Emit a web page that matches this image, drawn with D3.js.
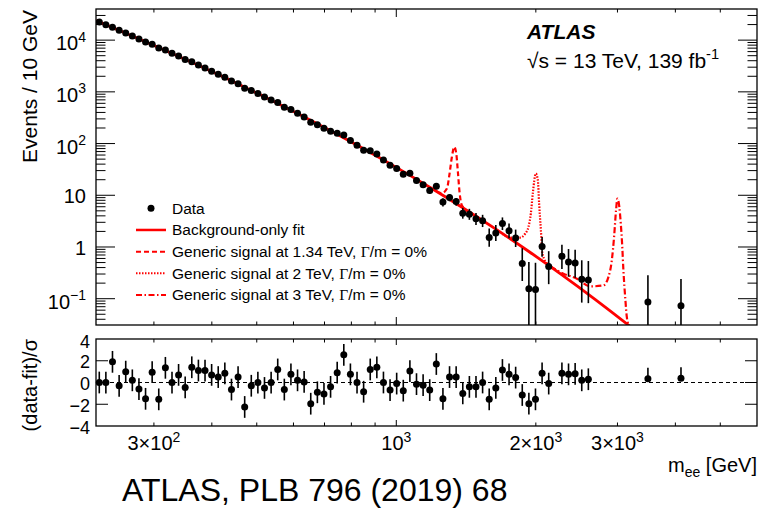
<!DOCTYPE html>
<html>
<head>
<meta charset="utf-8">
<script src="https://cdn.jsdelivr.net/npm/d3@7"></script>
<style>
  body { margin: 0; background: #fff; }
  svg { font-family: 'Liberation Sans', Arial, Helvetica, sans-serif; }
</style>
</head>
<body>
<svg id="chart" width="768" height="510"></svg>
<script>
// dielectron mass spectrum, bin centres (GeV) of the bins that hold data
const massCenters = [228.7, 236.3, 244.2, 252.4, 260.8, 269.5, 278.5, 287.8, 297.4, 307.3,
  317.6, 328.2, 339.1, 350.4, 362.1, 374.2, 386.7, 399.6, 412.9, 426.7,
  441.0, 455.7, 470.9, 486.6, 502.8, 519.6, 537.0, 554.9, 573.4, 592.5,
  612.3, 632.7, 653.8, 675.7, 698.2, 721.5, 745.6, 770.5, 796.2, 822.8,
  850.2, 878.6, 907.9, 938.2, 969.5, 1001.9, 1035.3, 1069.9, 1105.6, 1142.5,
  1180.6, 1220.0, 1260.7, 1302.8, 1346.3, 1391.3, 1437.7, 1485.7, 1535.3, 1586.5,
  1639.5, 1694.2, 1750.8, 1809.2, 1869.6, 1932.0, 1996.5, 2063.1, 2132.0,
  2276.7, 2352.7, 2431.2, 2512.4, 2596.2, 3490, 4113]

// events / 10 GeV
const events = [22510, 19890, 17840, 15460, 13800, 12070, 10550, 9190, 8290, 7080,
  6430, 5551, 4910, 4231, 3803, 3311, 2894, 2509, 2181, 1912,
  1614, 1436, 1171, 1062, 926, 791, 693, 619, 505, 455,
  385, 328, 259, 232, 197, 173, 158, 146.6, 114.3, 93.2,
  74.6, 72.9, 62.9, 48.1, 38.1, 33.0, 25.5, 26.6, 19.3, 16.0,
  12.4, 15.0, 7.4, 9.1, 7.6, 4.5, 4.3, 3.5, 3.2, 1.53,
  1.87, 2.83, 2.05, 1.49, 0.48, 0.155, 0.150, 1.02, 0.42,
  0.66, 0.51, 0.49, 0.238, 0.231, 0.086, 0.073]

const eventErrLow = [172, 159, 148, 135, 126, 116, 107, 98, 91, 83,
  78, 71, 66, 60, 56, 51, 47, 43, 40, 37,
  33, 31, 27, 26, 23, 21, 20, 18, 16, 15,
  13.7, 12.5, 10.9, 10.1, 9.2, 8.5, 8.0, 7.5, 6.6, 5.8,
  5.1, 5.0, 4.6, 3.9, 3.4, 3.1, 2.7, 2.7, 2.3, 2.05,
  1.77, 1.92, 1.33, 1.45, 1.30, 0.97, 0.95, 0.83, 0.77, 0.52,
  0.57, 0.70, 0.58, 0.49, 0.26, 0.128, 0.124, 0.375, 0.229,
  0.284, 0.244, 0.236, 0.154, 0.149, 0.071, 0.060]

const eventErrHigh = [172, 159, 148, 135, 126, 116, 107, 98, 91, 83,
  78, 71, 66, 60, 56, 51, 47, 43, 40, 37,
  33, 31, 27, 26, 23, 21, 20, 18, 16, 15,
  13.7, 12.5, 10.9, 10.1, 9.2, 8.5, 8.0, 7.5, 6.6, 5.8,
  5.1, 5.0, 4.6, 3.9, 3.4, 3.1, 2.7, 2.7, 2.3, 2.05,
  1.77, 1.92, 1.33, 1.45, 1.30, 1.2, 1.17, 1.05, 0.99, 0.75,
  0.78, 0.90, 0.78, 0.68, 0.47, 0.357, 0.345, 0.547, 0.41,
  0.445, 0.403, 0.39, 0.315, 0.304, 0.197, 0.168]

// (data-fit)/sigma
const pulls = [0.0, 0.0, 1.9, -0.3, 1.0, 0.2, -0.6, -1.5, 0.95, -1.55,
  1.35, 0.0, 0.7, -0.45, 1.4, 1.1, 1.1, 0.7, 0.5, 0.85,
  -0.65, 0.5, -2.25, -0.3, 0.0, -0.5, 0.0, 1.2, -0.65, 0.75,
  0.2, 0.05, -1.95, -0.9, -1.05, -0.4, 0.9, 2.55, 0.75, 0.0,
  -0.85, 1.2, 1.4, 0.0, -0.7, -0.1, -0.75, 1.05, -0.15, -0.25,
  -0.7, 1.7, -1.5, 0.5, 0.5, -1.0, -0.4, -0.4, 0.0, -1.55,
  -0.5, 1.15, 0.75, 0.45, -1.15, -1.95, -1.55, 0.85, -0.1,
  0.85, 0.75, 0.8, 0.2, 0.3, 0.35, 0.4]
const pullErrLow = [1, 1, 1, 1, 1, 1, 1, 1, 1, 1, 1, 1, 1, 1, 1, 1, 1, 1, 1, 1,
  1, 1, 1, 1, 1, 1, 1, 1, 1, 1, 1, 1, 1, 1, 1, 1, 1, 1, 1, 1,
  1, 1, 1, 1, 1, 1, 1, 1, 1, 1, 1, 1, 1, 1, 1, 1, 1, 1, 1, 1,
  1, 1, 1, 1, 1, 1, 1, 1, 1, 1, 1, 1, 1, 1, 0, 0]

// background-only fit
const fitMass = [225, 228.7, 269.5, 317.6, 374.2, 441.0, 519.6, 612.3, 721.5, 850.2,
  1001.9, 1180.6, 1391.3, 1639.5, 1932.0, 2276.7, 2684, 3163, 3377]
const fitEvents = [23920, 22510, 12050, 6328, 3255, 1636, 801.5, 381.9, 176.6, 79.1,
  34.25, 14.30, 5.742, 2.214, 0.818, 0.289, 0.0973, 0.0312, 0.0195]

// generic signal + background shapes
const sig134Mass = [1180.6, 1220, 1254, 1286, 1303, 1318, 1334, 1347, 1358, 1369, 1385, 1437.7]
const sig134Events = [14.3, 11.95, 11.0, 13.5, 26.3, 55.1, 86.1, 64.1, 28.2, 11.6, 6.4, 4.76]
const sig2Mass = [1694, 1761, 1850, 1897, 1928, 1951, 1970, 2000, 2020, 2033, 2051, 2067, 2084, 2132]
const sig2Events = [1.8, 1.52, 1.52, 1.82, 2.44, 4.43, 10.8, 26.3, 19.5, 6.9, 2.10, 0.744, 0.59, 0.46]
const sig3Mass = [2150, 2294, 2452, 2619, 2798, 2868, 2917, 2950, 2979, 2999, 3028, 3050, 3070, 3090, 3121, 3143, 3178]
const sig3Events = [0.42, 0.305, 0.244, 0.173, 0.181, 0.262, 0.552, 1.56, 5.13, 8.63, 5.94, 2.83, 1.16, 0.354, 0.093, 0.044, 0.0296]

const yMajorTicks = [0.1, 1, 10, 100, 1000, 10000]
const yTickLabels = [['10', '\u22121'], ['1', ''], ['10', ''], ['10', '2'], ['10', '3'], ['10', '4']]
const xMinorTicks = [300, 400, 500, 600, 700, 800, 900, 2000, 3000, 4000, 5000]
const xMajorTicks = [1000]
const xLabelTicks = [300, 1000, 2000, 3000]
const xTickLabels = [['3\u00d710', '2'], ['10', '3'], ['2\u00d710', '3'], ['3\u00d710', '3']]
const ratioTicks = [-2, 0, 2]
const ratioLabels = [4, 2, 0, -2, -4]

const legendItems = [
  { kind: 'data', text: 'Data' },
  { kind: 'line', dash: null, text: 'Background-only fit' },
  { kind: 'line', dash: '5,3', text: 'Generic signal at 1.34 TeV, ' },
  { kind: 'line', dash: '1.5,1.5', text: 'Generic signal at 2 TeV, ' },
  { kind: 'line', dash: '6,2.5,1.5,2.5', text: 'Generic signal at 3 TeV, ' }
]

const L = 96, R = 757, T = 9, MID = 325, RT = 339, RB = 426
const svg = d3.select('#chart')

const x = d3.scaleLog().domain([225, 6000]).range([L, R])
const y = d3.scaleLog().domain([0.031, 4e4]).range([MID, T])
const yr = d3.scaleLinear().domain([-4, 4]).range([RB, RT])

const points = massCenters.map((m, i) => ({
  m: m, n: events[i], lo: eventErrLow[i], hi: eventErrHigh[i], p: pulls[i], plo: pullErrLow[i]
}))

svg.append('defs').append('clipPath').attr('id', 'clipTop')
  .append('rect').attr('x', L).attr('y', T).attr('width', R - L).attr('height', MID - T)

/**
 * Writes a label like 10^3 with the exponent as a raised tspan
 */
function powerLabel (g, base, sup, px, py, anchor, size) {
  const t = g.append('text').attr('x', px).attr('y', py)
    .attr('text-anchor', anchor).attr('font-size', size)
  t.append('tspan').text(base)
  if (sup) t.append('tspan').attr('dy', -size * 0.42).attr('font-size', size * 0.7).text(sup)
  return t
}

/**
 * Draws ticks of the log mass axis on one horizontal frame edge
 */
function drawXTicks (g, yEdge, dir, minorLen, majorLen) {
  g.selectAll(null).data(xMinorTicks.concat(xMajorTicks)).join('line')
    .attr('x1', d => x(d)).attr('x2', d => x(d))
    .attr('y1', yEdge)
    .attr('y2', d => yEdge + dir * (xMajorTicks.includes(d) ? majorLen : minorLen))
    .attr('stroke', '#000').attr('stroke-width', 1)
}

// ---- upper panel ----
const upper = svg.append('g')

const yMinor = []
for (let e = -2; e <= 4; e++) {
  for (let k = 2; k <= 9; k++) {
    const v = k * Math.pow(10, e)
    if (v > 0.031 && v < 4e4) yMinor.push(v)
  }
}
;[[L, 1], [R, -1]].forEach(([xe, dir]) => {
  upper.selectAll(null).data(yMinor).join('line')
    .attr('x1', xe).attr('x2', xe + dir * 9.5)
    .attr('y1', d => y(d)).attr('y2', d => y(d))
    .attr('stroke', '#000').attr('stroke-width', 1)
  upper.selectAll(null).data(yMajorTicks).join('line')
    .attr('x1', xe).attr('x2', xe + dir * 19)
    .attr('y1', d => y(d)).attr('y2', d => y(d))
    .attr('stroke', '#000').attr('stroke-width', 1)
})
drawXTicks(upper, T, 1, 3.5, 8)
drawXTicks(upper, MID, -1, 3.5, 8)

yMajorTicks.forEach((v, i) => {
  const [b, s] = yTickLabels[i]
  powerLabel(upper, b, s, 86, y(v) + (s ? 10 : 8), 'end', 20)
})

const plot = upper.append('g').attr('clip-path', 'url(#clipTop)')

const curve = (ms, vs) => d3.line()
  .x((d, i) => x(ms[i])).y((d, i) => y(vs[i]))
  .curve(d3.curveMonotoneX)(ms)

plot.append('path').attr('d', curve(sig134Mass, sig134Events))
  .attr('fill', 'none').attr('stroke', '#ff0000').attr('stroke-width', 2.2).attr('stroke-dasharray', '5,3')
plot.append('path').attr('d', curve(sig2Mass, sig2Events))
  .attr('fill', 'none').attr('stroke', '#ff0000').attr('stroke-width', 2.2).attr('stroke-dasharray', '1.5,1.5')
plot.append('path').attr('d', curve(sig3Mass, sig3Events))
  .attr('fill', 'none').attr('stroke', '#ff0000').attr('stroke-width', 2.2).attr('stroke-dasharray', '6,2.5,1.5,2.5')
plot.append('path').attr('d', curve(fitMass, fitEvents))
  .attr('fill', 'none').attr('stroke', '#ff0000').attr('stroke-width', 2.8)

plot.selectAll('.err').data(points).join('line').classed('err', true)
  .attr('x1', d => x(d.m)).attr('x2', d => x(d.m))
  .attr('y1', d => y(Math.max(d.n - d.lo, 1e-3))).attr('y2', d => y(d.n + d.hi))
  .attr('stroke', '#000').attr('stroke-width', 1.6)
plot.selectAll('.dot').data(points).join('circle').classed('dot', true)
  .attr('cx', d => x(d.m)).attr('cy', d => y(d.n)).attr('r', 3.5).attr('fill', '#000')

upper.append('rect').attr('x', L).attr('y', T).attr('width', R - L).attr('height', MID - T)
  .attr('fill', 'none').attr('stroke', '#000').attr('stroke-width', 1.3)

// labels in the upper panel
upper.append('text').attr('transform', `translate(37,${T + 1}) rotate(-90)`)
  .attr('text-anchor', 'end').attr('font-size', 21).text('Events / 10 GeV')
upper.append('text').attr('x', 527).attr('y', 39).attr('font-size', 21)
  .attr('font-weight', 'bold').attr('font-style', 'italic').text('ATLAS')
powerLabel(upper, '\u221as = 13 TeV, 139 fb', '-1', 527, 68, 'start', 21)

// legend
const leg = upper.append('g')
legendItems.forEach((it, i) => {
  const ly = 208.3 + i * 21.67
  if (it.kind === 'data') {
    leg.append('circle').attr('cx', 151).attr('cy', ly).attr('r', 3.5).attr('fill', '#000')
  } else {
    leg.append('line').attr('x1', 136).attr('x2', 166).attr('y1', ly).attr('y2', ly)
      .attr('stroke', '#ff0000').attr('stroke-width', it.dash ? 2 : 2.5)
      .attr('stroke-dasharray', it.dash)
  }
  const t = leg.append('text').attr('x', 172).attr('y', ly + 5.5).attr('font-size', 15.5)
  t.append('tspan').text(it.text)
  if (i > 1) {
    t.append('tspan').attr('font-family', "'Liberation Serif', 'Times New Roman', serif").text('\u0393')
    t.append('tspan').text('/m = 0%')
  }
})

// ---- ratio panel ----
const lower = svg.append('g')
lower.append('line').attr('x1', L).attr('x2', R).attr('y1', yr(0)).attr('y2', yr(0))
  .attr('stroke', '#000').attr('stroke-width', 1).attr('stroke-dasharray', '4,3')

;[[L, 1], [R, -1]].forEach(([xe, dir]) => {
  lower.selectAll(null).data(ratioTicks).join('line')
    .attr('x1', xe).attr('x2', xe + dir * 12)
    .attr('y1', d => yr(d)).attr('y2', d => yr(d))
    .attr('stroke', '#000').attr('stroke-width', 1)
})
drawXTicks(lower, RT, 1, 3.5, 6)
drawXTicks(lower, RB, -1, 3.5, 6)

lower.selectAll('.rerr').data(points).join('line').classed('rerr', true)
  .attr('x1', d => x(d.m)).attr('x2', d => x(d.m))
  .attr('y1', d => yr(d.p - d.plo)).attr('y2', d => yr(d.p + 1))
  .attr('stroke', '#000').attr('stroke-width', 1.6)
lower.selectAll('.rdot').data(points).join('circle').classed('rdot', true)
  .attr('cx', d => x(d.m)).attr('cy', d => yr(d.p)).attr('r', 3.5).attr('fill', '#000')

lower.append('rect').attr('x', L).attr('y', RT).attr('width', R - L).attr('height', RB - RT)
  .attr('fill', 'none').attr('stroke', '#000').attr('stroke-width', 1.3)

ratioLabels.forEach(v => {
  const py = v === 4 ? 348 : yr(v) + 7.5
  lower.append('text').attr('x', 90).attr('y', py).attr('text-anchor', 'end')
    .attr('font-size', 18).text(v < 0 ? '\u2212' + Math.abs(v) : String(v))
})
lower.append('text').attr('transform', 'translate(37,339) rotate(-90)')
  .attr('text-anchor', 'end').attr('font-size', 20).text('(data-fit)/\u03c3')

xLabelTicks.forEach((v, i) => {
  const [b, s] = xTickLabels[i]
  powerLabel(lower, b, s, x(v), 450, 'middle', 20)
})

const xt = lower.append('text').attr('x', R).attr('y', 472).attr('text-anchor', 'end').attr('font-size', 20)
xt.append('tspan').text('m')
xt.append('tspan').attr('font-size', 14).attr('dy', 5).text('ee')
xt.append('tspan').attr('dy', -5).text(' [GeV]')

svg.append('text').attr('x', 122).attr('y', 501).attr('font-size', 32).text('ATLAS, PLB 796 (2019) 68')
</script>
</body>
</html>
